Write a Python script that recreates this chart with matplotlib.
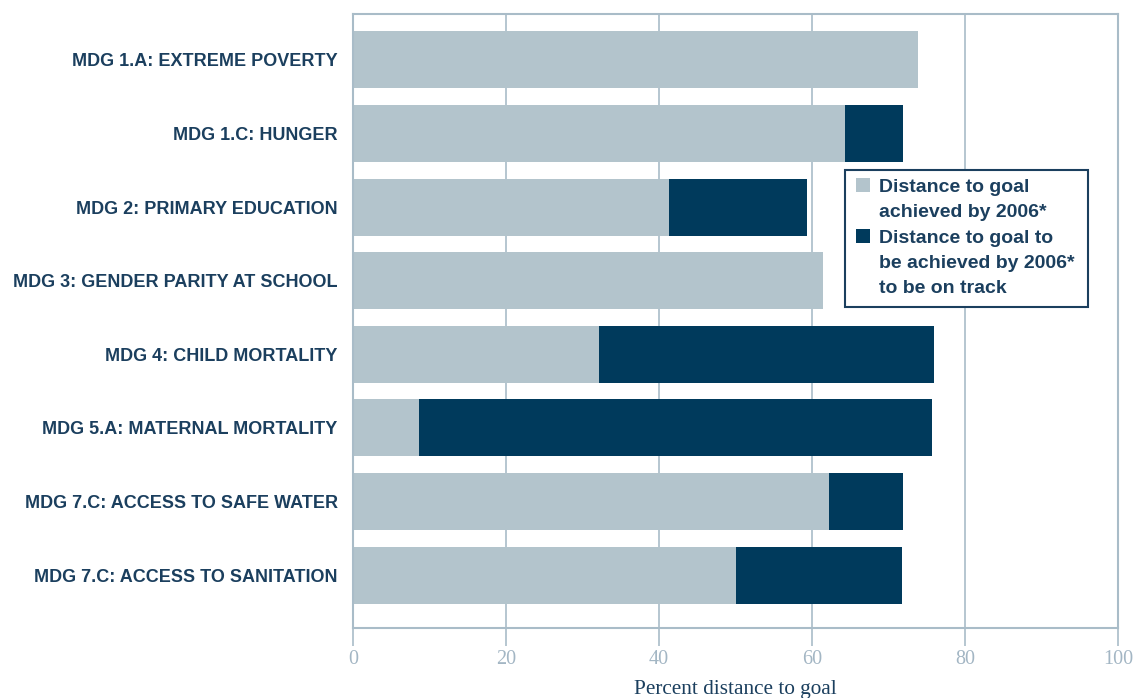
import matplotlib
matplotlib.use("Agg")
import matplotlib.pyplot as plt
from matplotlib.patches import Rectangle

categories = [
    "MDG 1.A: EXTREME POVERTY",
    "MDG 1.C: HUNGER",
    "MDG 2: PRIMARY EDUCATION",
    "MDG 3: GENDER PARITY AT SCHOOL",
    "MDG 4: CHILD MORTALITY",
    "MDG 5.A: MATERNAL MORTALITY",
    "MDG 7.C: ACCESS TO SAFE WATER",
    "MDG 7.C: ACCESS TO SANITATION",
]
achieved = [73.9, 64.3, 41.3, 61.5, 32.2, 8.6, 62.2, 50.0]
to_be_achieved = [0.0, 7.6, 18.1, 0.0, 43.7, 67.1, 9.7, 21.7]
xticks = [0, 20, 40, 60, 80, 100]
legend_labels = [["Distance to goal", "achieved by 2006*"],
                 ["Distance to goal to", "be achieved by 2006*", "to be on track"]]
xlabel = "Percent distance to goal"

LIGHT = "#b3c4cc"
DARK = "#003a5c"
TEXT = "#1b3f5e"
GRID = "#a9bcc8"
TICKLAB = "#a3b6c4"
sans = "Liberation Sans"
serif = "Liberation Serif"

W, H = 1138, 698
fig = plt.figure(figsize=(W / 100, H / 100), dpi=100)
ax = fig.add_axes([353 / W, 1 - 628 / H, (1118 - 353) / W, (628 - 14) / H])


def px(x, y):
    return x / W, 1 - y / H


y = list(range(len(categories)))
h = 0.775
ax.barh(y, achieved, height=h, color=LIGHT, zorder=2)
ax.barh(y, to_be_achieved, left=achieved, height=h, color=DARK, zorder=2)

ax.set_xlim(0, 100)
ax.set_ylim(7.72, -0.625)
ax.set_xticks(xticks)
ax.set_xticklabels([str(t) for t in xticks], fontfamily=serif, fontsize=14.5, color=TICKLAB)
ax.set_yticks(y)
ax.set_yticklabels(categories, fontfamily=sans, fontweight="bold", fontsize=13, color=TEXT)
ax.tick_params(axis="y", length=0, pad=11)
ax.tick_params(axis="x", length=13, width=1.2, color=GRID, pad=3)
ax.xaxis.grid(True, color=GRID, linewidth=1.2, zorder=0)
ax.set_axisbelow(True)
for s in ax.spines.values():
    s.set_color(GRID)
    s.set_linewidth(1.5)
ax.set_xlabel(xlabel, fontfamily=serif, fontsize=15.3, color=TEXT, labelpad=8)

# legend drawn manually so that swatches sit on the first line of each entry
fig.patches.append(Rectangle(px(845, 307), (1088 - 845) / W, (307 - 170) / H,
                             transform=fig.transFigure, facecolor="white",
                             edgecolor=TEXT, linewidth=1.5, zorder=5))
swatch_colors = [LIGHT, DARK]
line_gap = 25.3
baseline = 192.0
for col, lines in zip(swatch_colors, legend_labels):
    fig.patches.append(Rectangle(px(856, baseline), 14 / W, 14 / H,
                                 transform=fig.transFigure, facecolor=col,
                                 edgecolor="none", zorder=6))
    for ln in lines:
        fig.text(*px(879, baseline), ln, fontfamily=sans, fontweight="bold",
                 fontsize=14, color=TEXT, va="baseline", ha="left", zorder=7)
        baseline += line_gap

fig.savefig("out.png", dpi=100)
